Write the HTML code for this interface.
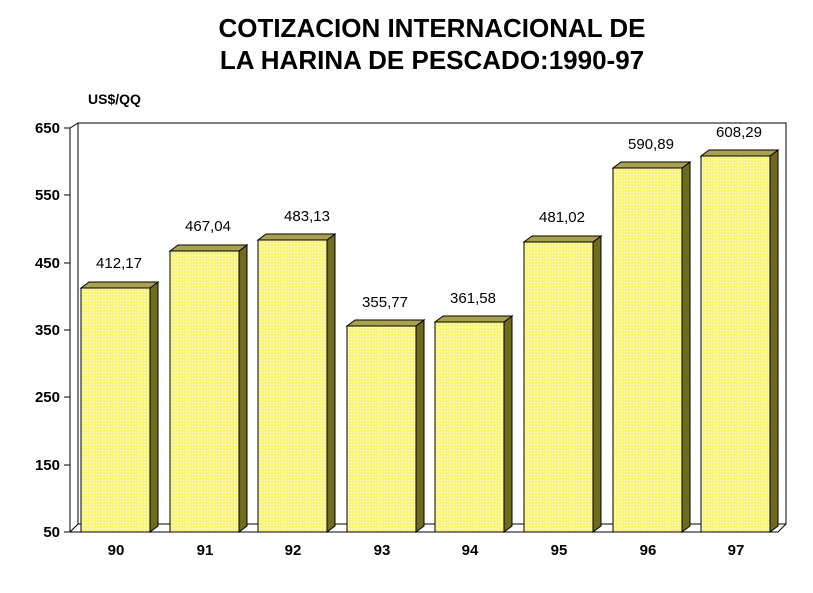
<!DOCTYPE html>
<html><head><style>body{margin:0;background:#fff}svg{display:block}</style></head><body>
<svg width="813" height="593" xmlns="http://www.w3.org/2000/svg" font-family="Liberation Sans, Arial, sans-serif">
<defs>
<pattern id="dots" width="3" height="3" patternUnits="userSpaceOnUse">
<rect width="3" height="3" fill="#f8f47e"/><rect x="0" y="0" width="1" height="1" fill="#ffffee"/>
</pattern>
</defs>
<text x="432" y="37" font-size="26" font-weight="bold" text-anchor="middle">COTIZACION INTERNACIONAL DE</text>
<text x="432" y="69" font-size="26" font-weight="bold" text-anchor="middle">LA HARINA DE PESCADO:1990-97</text>
<text x="88" y="104" font-size="14" font-weight="bold">US$/QQ</text>
<polyline points="70,128 70,532 778,532 786,524" fill="none" stroke="#000"/>
<polyline points="78,524 78,123 786,123 786,524 78,524 70,532" fill="none" stroke="#000"/>
<line x1="70" y1="128" x2="78" y2="123" stroke="#000"/>
<g stroke="#000">
<line x1="64" y1="128" x2="70" y2="128"/><line x1="64" y1="195" x2="70" y2="195"/>
<line x1="64" y1="263" x2="70" y2="263"/><line x1="64" y1="330" x2="70" y2="330"/>
<line x1="64" y1="397" x2="70" y2="397"/><line x1="64" y1="465" x2="70" y2="465"/>
<line x1="64" y1="532" x2="70" y2="532"/>
</g>
<g font-size="15" font-weight="bold" text-anchor="end">
<text x="60" y="133">650</text><text x="60" y="200">550</text><text x="60" y="268">450</text>
<text x="60" y="335">350</text><text x="60" y="402">250</text><text x="60" y="470">150</text><text x="60" y="537">50</text>
</g>
<g stroke="#000" stroke-width="1">
<polygon points="150,288 158,282 158,526 150,532" fill="#6e6a1e"/><polygon points="81,288 89,282 158,282 150,288" fill="#a8a250"/><rect x="81" y="288" width="69" height="244" fill="url(#dots)"/>
<polygon points="239,251 247,245 247,526 239,532" fill="#6e6a1e"/><polygon points="170,251 178,245 247,245 239,251" fill="#a8a250"/><rect x="170" y="251" width="69" height="281" fill="url(#dots)"/>
<polygon points="327,240 335,234 335,526 327,532" fill="#6e6a1e"/><polygon points="258,240 266,234 335,234 327,240" fill="#a8a250"/><rect x="258" y="240" width="69" height="292" fill="url(#dots)"/>
<polygon points="416,326 424,320 424,526 416,532" fill="#6e6a1e"/><polygon points="347,326 355,320 424,320 416,326" fill="#a8a250"/><rect x="347" y="326" width="69" height="206" fill="url(#dots)"/>
<polygon points="504,322 512,316 512,526 504,532" fill="#6e6a1e"/><polygon points="435,322 443,316 512,316 504,322" fill="#a8a250"/><rect x="435" y="322" width="69" height="210" fill="url(#dots)"/>
<polygon points="593,242 601,236 601,526 593,532" fill="#6e6a1e"/><polygon points="524,242 532,236 601,236 593,242" fill="#a8a250"/><rect x="524" y="242" width="69" height="290" fill="url(#dots)"/>
<polygon points="682,168 690,162 690,526 682,532" fill="#6e6a1e"/><polygon points="613,168 621,162 690,162 682,168" fill="#a8a250"/><rect x="613" y="168" width="69" height="364" fill="url(#dots)"/>
<polygon points="770,156 778,150 778,526 770,532" fill="#6e6a1e"/><polygon points="701,156 709,150 778,150 770,156" fill="#a8a250"/><rect x="701" y="156" width="69" height="376" fill="url(#dots)"/>
</g>
<g font-size="15" text-anchor="middle">
<text x="119" y="268">412,17</text><text x="208" y="231">467,04</text><text x="307" y="221">483,13</text><text x="385" y="307">355,77</text>
<text x="473" y="303">361,58</text><text x="562" y="222">481,02</text><text x="651" y="149">590,89</text><text x="739" y="137">608,29</text>
</g>
<g font-size="15" font-weight="bold" text-anchor="middle">
<text x="116" y="555">90</text><text x="205" y="555">91</text><text x="293" y="555">92</text><text x="382" y="555">93</text>
<text x="470" y="555">94</text><text x="559" y="555">95</text><text x="648" y="555">96</text><text x="736" y="555">97</text>
</g>
</svg>
</body></html>
